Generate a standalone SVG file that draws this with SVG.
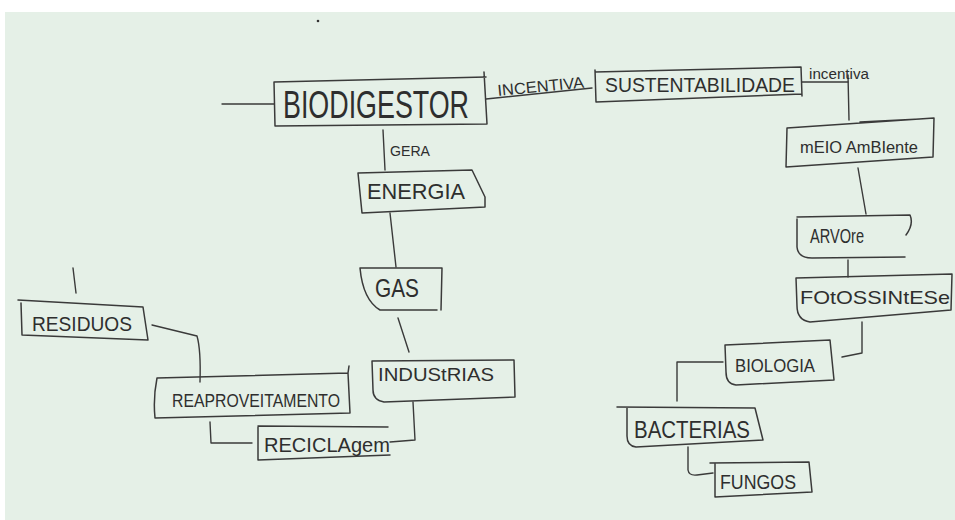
<svg xmlns="http://www.w3.org/2000/svg" width="955" height="520" viewBox="0 0 955 520">
  <style>
    .paper { fill: #e5f0e7; }
    .box { fill: none; stroke: #3a3a3a; stroke-width: 1.5; stroke-linecap: round; stroke-linejoin: round; }
    .link { fill: none; stroke: #3a3a3a; stroke-width: 1.4; stroke-linecap: round; stroke-linejoin: round; }
    .t { font-family: "Liberation Sans", "DejaVu Sans", sans-serif; fill: #2e2e2e; }
  </style>

  <!-- sheet of paper -->
  <rect x="0" y="0" width="955" height="520" fill="#ffffff"/>
  <rect class="paper" x="5" y="12" width="950" height="508"/>
  <circle cx="318" cy="21" r="1.3" fill="#333"/>

  <!-- connectors -->
  <g id="connectors">
    <path class="link" d="M222,104 L274,104"/>
    <path class="link" d="M486,99 L592,88"/>
    <path class="link" d="M802,82 L848,82"/>
    <path class="link" d="M848,75 L849,120"/>
    <path class="link" d="M858,168 L866,214"/>
    <path class="link" d="M848,260 L848,277"/>
    <path class="link" d="M862,322 L862,353 L842,357"/>
    <path class="link" d="M723,362 L677,362 L677,401"/>
    <path class="link" d="M688,447 L688,470 Q689,476 697,475 L713,473"/>
    <path class="link" d="M383,130 L385,170"/>
    <path class="link" d="M390,213 L396,267"/>
    <path class="link" d="M398,318 L409,352"/>
    <path class="link" d="M152,325 L197,336 Q201,350 200,382"/>
    <path class="link" d="M210,422 L211,443 L252,443"/>
    <path class="link" d="M390,442 L415,440 L413,402"/>
    <path class="link" d="M73,268 L76,293"/>
    <text class="t" x="498" y="96" font-size="16" textLength="87" lengthAdjust="spacingAndGlyphs" transform="rotate(-5.5 498 96)">INCENTIVA</text>
    <text class="t" x="809" y="79" font-size="14" textLength="60" lengthAdjust="spacingAndGlyphs">incentiva</text>
    <text class="t" x="390" y="156" font-size="14" textLength="40" lengthAdjust="spacingAndGlyphs">GERA</text>
  </g>

  <!-- concept nodes -->
  <g id="biodigestor">
    <path class="box" d="M274,82 L275,126 L487,124 L484,72 M274,82 L486,77"/>
    <text class="t" x="283" y="118" font-size="38" textLength="186" lengthAdjust="spacingAndGlyphs">BIODIGESTOR</text>
  </g>

  <g id="sustentabilidade">
    <path class="box" d="M595,72 L801,67 L802,96 M595,70 L596,102 L802,94"/>
    <text class="t" x="605" y="92" font-size="21" textLength="190" lengthAdjust="spacingAndGlyphs">SUSTENTABILIDADE</text>
  </g>

  <g id="meio-ambiente">
    <path class="box" d="M787,128 L934,118 L933,157 L786,167 Z M860,122 L920,119"/>
    <text class="t" x="800" y="153" font-size="17" textLength="118" lengthAdjust="spacingAndGlyphs">mEIO AmBIente</text>
  </g>

  <g id="arvore">
    <path class="box" d="M797,217 L910,215 Q914,224 906,235 M797,219 L797,247 Q798,258 812,258 L905,257"/>
    <text class="t" x="810" y="243" font-size="20" textLength="54" lengthAdjust="spacingAndGlyphs">ARVOre</text>
  </g>

  <g id="fotossintese">
    <path class="box" d="M796,278 L952,274 L951,310 L810,322 Q797,320 797,306 Z"/>
    <text class="t" x="800" y="304" font-size="19" textLength="150" lengthAdjust="spacingAndGlyphs">FOtOSSINtESe</text>
  </g>

  <g id="biologia">
    <path class="box" d="M725,345 L830,340 L834,380 L736,385 Q726,384 726,372 Z"/>
    <text class="t" x="735" y="372" font-size="19" textLength="80" lengthAdjust="spacingAndGlyphs">BIOLOGIA</text>
  </g>

  <g id="bacterias">
    <path class="box" d="M617,407 L755,408 L763,440 L636,447 Q627,446 627,436 L627,408"/>
    <text class="t" x="634" y="438" font-size="23" textLength="116" lengthAdjust="spacingAndGlyphs">BACTERIAS</text>
  </g>

  <g id="fungos">
    <path class="box" d="M710,463 L809,462 L812,492 L715,497 L715,463"/>
    <text class="t" x="720" y="489" font-size="20" textLength="76" lengthAdjust="spacingAndGlyphs">FUNGOS</text>
  </g>

  <g id="energia">
    <path class="box" d="M358,173 L472,170 L485,197 L485,207 L362,213 L358,173"/>
    <text class="t" x="367" y="199" font-size="22" textLength="98" lengthAdjust="spacingAndGlyphs">ENERGIA</text>
  </g>

  <g id="gas">
    <path class="box" d="M360,268 L442,268 L441,310 M360,268 Q363,300 380,310 L437,310"/>
    <text class="t" x="375" y="297" font-size="25" textLength="44" lengthAdjust="spacingAndGlyphs">GAS</text>
  </g>

  <g id="industrias">
    <path class="box" d="M372,361 L514,360 L515,397 L384,402 Q373,400 373,390 Z"/>
    <text class="t" x="378" y="381" font-size="18" textLength="116" lengthAdjust="spacingAndGlyphs">INDUStRIAS</text>
  </g>

  <g id="residuos">
    <path class="box" d="M18,300 L143,307 L148,340 L22,335 L21,303"/>
    <text class="t" x="32" y="331" font-size="21" textLength="100" lengthAdjust="spacingAndGlyphs">RESIDUOS</text>
  </g>

  <g id="reaproveitamento">
    <path class="box" d="M157,378 L348,373 L350,413 L155,418 Q153,398 157,378 M348,373 L349,366"/>
    <text class="t" x="172" y="407" font-size="19" textLength="168" lengthAdjust="spacingAndGlyphs">REAPROVEITAMENTO</text>
  </g>

  <g id="reciclagem">
    <path class="box" d="M258,426 L388,427 M258,427 L258,460 L390,455"/>
    <text class="t" x="264" y="452" font-size="21" textLength="126" lengthAdjust="spacingAndGlyphs">RECICLAgem</text>
  </g>
</svg>
